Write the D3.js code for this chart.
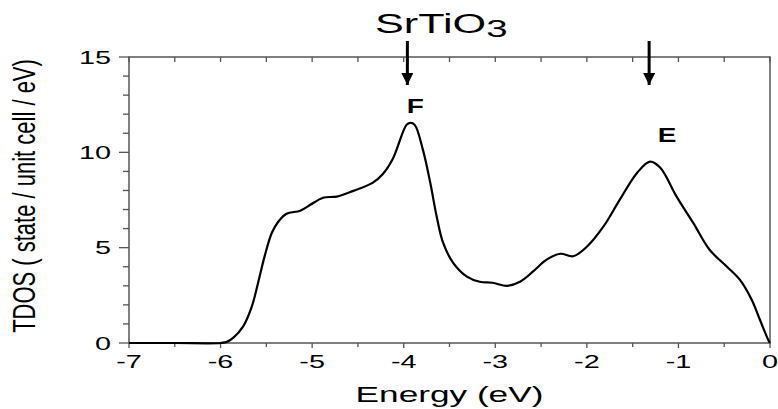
<!DOCTYPE html>
<html>
<head>
<meta charset="utf-8">
<script src="https://cdn.jsdelivr.net/npm/d3@7"></script>
<style>
  body { margin: 0; background: #fff; }
  svg { display: block; }
  text { font-family: "Liberation Sans", Arial, sans-serif; fill: #000; }
</style>
</head>
<body>
<div id="chart"></div>
<script>
const width = 778
const height = 409
const margin = {top: 57, right: 8, bottom: 66, left: 129}
const stretch = 1.6   // the picture is squashed wide, text too

// energy (eV) and total DOS
const energy = [-7, -6.5, -6.0, -5.93, -5.86, -5.755, -5.66, -5.59, -5.52, -5.44, -5.37, -5.28,
  -5.13, -5.02, -4.88, -4.73, -4.55, -4.34, -4.23, -4.12, -3.97, -3.93, -3.88, -3.79,
  -3.71, -3.64, -3.57, -3.46, -3.31, -3.17, -3.03, -2.87, -2.73, -2.59, -2.44, -2.29,
  -2.15, -2.0, -1.82, -1.64, -1.45, -1.31, -1.2, -1.02, -0.84, -0.66, -0.47, -0.33,
  -0.2, -0.11, -0.02, 0]
const tdos = [0, 0, 0, 0.06, 0.28, 0.86, 1.9, 3.16, 4.53, 5.78, 6.36, 6.78,
  6.94, 7.25, 7.62, 7.68, 7.98, 8.4, 8.85, 9.65, 11.44, 11.55, 11.44, 10.13,
  8.4, 6.63, 5.26, 4.2, 3.48, 3.21, 3.16, 3.0, 3.21, 3.74, 4.37, 4.68,
  4.55, 5.05, 6.1, 7.52, 8.93, 9.51, 9.2, 7.68, 6.31, 4.89, 4.0, 3.32,
  2.27, 1.22, 0.17, 0]

const xTicks = [-7, -6, -5, -4, -3, -2, -1, 0]
const yTicks = [0, 5, 10, 15]
const peaks = [{name: "F", e: -3.96, labelY: 12.05}, {name: "E", e: -1.32, labelY: 10.55}]

const innerW = width - margin.left - margin.right
const innerH = height - margin.top - margin.bottom

const svg = d3.select("#chart").append("svg")
    .attr("width", width)
    .attr("height", height)

const x = d3.scaleLinear().domain([-7, 0]).range([margin.left, margin.left + innerW])
const y = d3.scaleLinear().domain([0, 15]).range([margin.top + innerH, margin.top])

const axisColor = "#555"

// wide text helper
function wideText(g, str, tx, ty, size, anchor, sx) {
    return g.append("text")
        .attr("transform", `translate(${tx},${ty}) scale(${sx || stretch},1)`)
        .attr("text-anchor", anchor || "start")
        .style("font-size", size + "px")
        .text(str)
}

// frame
svg.append("rect")
    .attr("x", x(-7)).attr("y", y(15))
    .attr("width", x(0) - x(-7)).attr("height", y(0) - y(15))
    .attr("fill", "none")
    .attr("stroke", axisColor)
    .attr("stroke-width", 1.5)

// bottom ticks, every half eV, pointing out
const halfTicks = d3.range(-7, 0.01, 0.5)
svg.append("g").selectAll("line").data(halfTicks).join("line")
    .attr("x1", d => x(d)).attr("x2", d => x(d))
    .attr("y1", y(0)).attr("y2", d => y(0) + (Number.isInteger(d) ? 5 : 4))
    .attr("stroke", axisColor).attr("stroke-width", 1.3)

// top ticks, pointing in
svg.append("g").selectAll("line").data(halfTicks).join("line")
    .attr("x1", d => x(d)).attr("x2", d => x(d))
    .attr("y1", y(15)).attr("y2", y(15) + 5)
    .attr("stroke", axisColor).attr("stroke-width", 1.3)

// left ticks, every unit, pointing out
svg.append("g").selectAll("line").data(d3.range(0, 15.01, 1)).join("line")
    .attr("y1", d => y(d)).attr("y2", d => y(d))
    .attr("x1", x(-7)).attr("x2", d => x(-7) - (d % 5 === 0 ? 10 : 6))
    .attr("stroke", axisColor).attr("stroke-width", 1.3)

const labels = svg.append("g")
for (const t of xTicks) {
    wideText(labels, t === 0 ? "0" : "-" + Math.abs(t), x(t), y(0) + 25, 18, "middle")
}
for (const t of yTicks) {
    wideText(labels, String(t), x(-7) - 18, y(t) + 6.5, 18, "end")
}

wideText(labels, "Energy (eV)", (x(-7) + x(0)) / 2, 402, 22, "middle")

labels.append("text")
    .attr("transform", `translate(35,${(y(0) + y(15)) / 2 - 4}) scale(1.4,1) rotate(-90)`)
    .attr("text-anchor", "middle")
    .style("font-size", "22px")
    .text("TDOS ( state / unit cell / eV)")

// title
const title = labels.append("text")
    .attr("transform", `translate(375,33) scale(${stretch},1)`)
    .style("font-size", "27px")
title.append("tspan").text("SrTiO")
title.append("tspan").attr("dy", 4).style("font-size", "24px").text("3")

// the curve
const line = d3.line()
    .x((d, i) => x(energy[i]))
    .y(d => y(d))
    .curve(d3.curveCatmullRom.alpha(0.5))

svg.append("path")
    .datum(tdos)
    .attr("d", line)
    .attr("fill", "none")
    .attr("stroke", "#000")
    .attr("stroke-width", 2.2)

// peak arrows and letters
svg.append("defs").append("marker")
    .attr("id", "head")
    .attr("viewBox", "0 0 10 10")
    .attr("refX", 10).attr("refY", 5)
    .attr("markerWidth", 4).attr("markerHeight", 4)
    .attr("markerUnits", "strokeWidth")
    .attr("orient", "auto")
    .append("path").attr("d", "M0,0 L10,5 L0,10 Z").attr("fill", "#000")

for (const p of peaks) {
    svg.append("line")
        .attr("x1", x(p.e)).attr("x2", x(p.e))
        .attr("y1", 41).attr("y2", 85)
        .attr("stroke", "#000")
        .attr("stroke-width", 3)
        .attr("marker-end", "url(#head)")
}
for (const p of peaks) {
    wideText(labels, p.name, x(p.e) + (p.name === "F" ? 8 : 18), y(p.labelY), 20, "middle", 1.4)
        .style("font-weight", "bold")
}
</script>
</body>
</html>
